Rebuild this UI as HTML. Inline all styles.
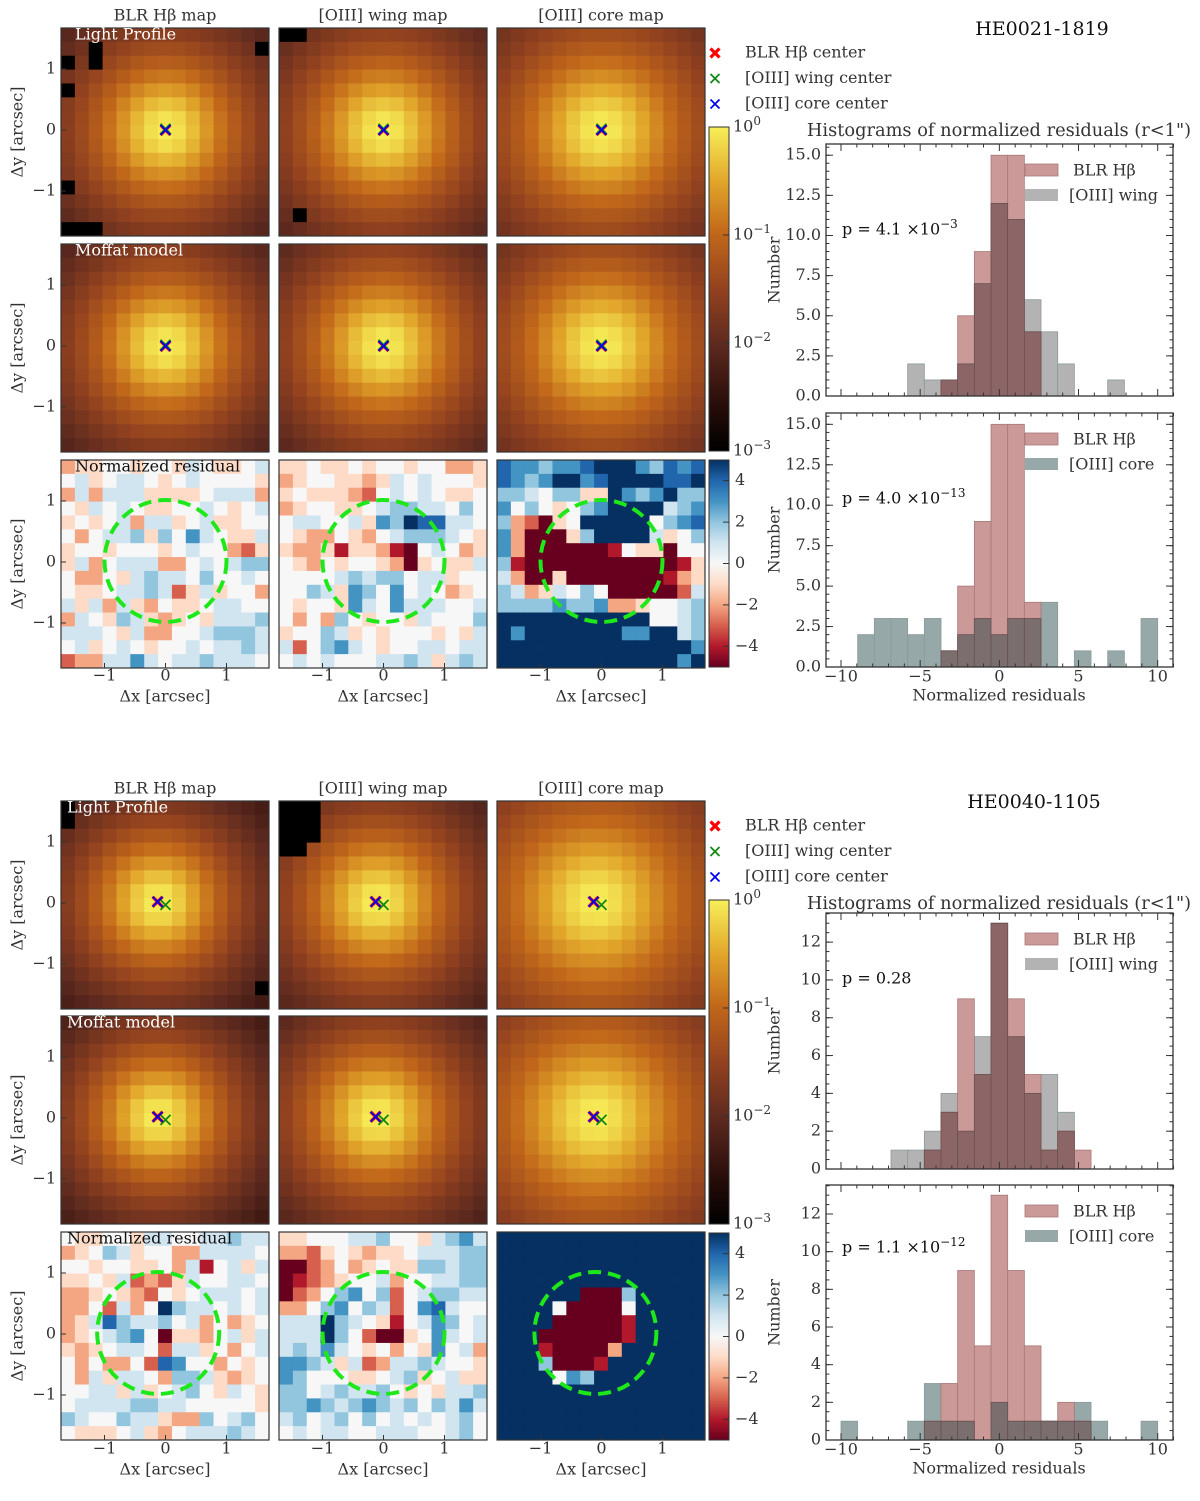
<!DOCTYPE html>
<html><head><meta charset="utf-8"><style>
html,body{margin:0;padding:0;background:#fff;}
svg{display:block;font-family:"DejaVu Serif","Liberation Serif",serif;}
</style></head><body>
<svg id="fig" width="1200" height="1501" viewBox="0 0 1200 1501" xmlns="http://www.w3.org/2000/svg">
<defs>
<linearGradient id="gLog" x1="0" y1="1" x2="0" y2="0">
<stop offset="0" stop-color="#000000"/><stop offset="0.15" stop-color="#2a0e0a"/><stop offset="0.33" stop-color="#5e2a1f"/><stop offset="0.5" stop-color="#93421f"/><stop offset="0.67" stop-color="#c1671a"/><stop offset="0.83" stop-color="#e1a52a"/><stop offset="1" stop-color="#f7ef58"/>
</linearGradient>
<linearGradient id="gRdBu" x1="0" y1="1" x2="0" y2="0">
<stop offset="0" stop-color="#67001f"/><stop offset="0.1" stop-color="#b2182b"/><stop offset="0.2" stop-color="#d6604d"/><stop offset="0.3" stop-color="#f4a582"/><stop offset="0.4" stop-color="#fddbc7"/><stop offset="0.5" stop-color="#f7f7f7"/><stop offset="0.6" stop-color="#d1e5f0"/><stop offset="0.7" stop-color="#92c5de"/><stop offset="0.8" stop-color="#4393c3"/><stop offset="0.9" stop-color="#2166ac"/><stop offset="1" stop-color="#053061"/>
</linearGradient>
</defs>
</svg>
<script>
// ---------- data ----------
const panelNames = ["HE0021-1819", "HE0040-1105"];
const histBinStart = -10;
const histBinCount = 19;
const p1BlrA = [0,0,0,0,0,0,1,5,9,15,15,4,0,0,0,0,0,0,0];
const p1Wing = [0,0,0,0,2,1,1,2,7,12,11,6,4,2,0,0,1,0,0];
const p1BlrB = [0,0,0,0,0,0,1,5,9,15,15,4,0,0,0,0,0,0,0];
const p1Core = [0,2,3,3,2,3,1,2,3,2,3,3,4,0,1,0,1,0,3];
const p2BlrA = [0,0,0,0,0,1,3,9,5,13,9,5,1,2,1,0,0,0,0];
const p2Wing = [0,0,0,1,1,2,4,2,7,13,7,4,5,3,0,0,0,0,0];
const p2BlrB = [0,0,0,0,0,1,3,9,5,13,9,5,1,2,1,0,0,0,0];
const p2Core = [1,0,0,0,1,3,1,1,0,2,1,1,1,1,2,1,0,0,1];
const pValues = [["4.1","-3"],["4.0","-13"],["0.28",""],["1.1","-12"]];
const yTicks1 = [0,2.5,5,7.5,10,12.5,15];
const yTicks2 = [0,2,4,6,8,10,12];
const xTicks = [-10,-5,0,5,10];
// light profile Moffat params per panel per map: [x0, y0 (arcsec), alpha, beta]
const lpP1 = [[0,0,0.62,1.8],[0,0,0.65,1.8],[0,0,0.7,1.7]];
const lpP2 = [[-0.12,0.02,0.6,1.9],[-0.1,0.02,0.62,1.8],[-0.1,0.02,0.75,1.6]];
// masked (black) cells "row,col"
const maskP1 = [["1,14","2,0","4,0","11,0","14,0","14,1","14,2","1,2","2,2"],["13,1","0,0","0,1"],[]];
const maskP2 = [["1,0","0,0","13,14"],["0,0","0,1","0,2","1,0","1,1","1,2","2,0","2,1","2,2","3,0","3,1"],[]];
// markers: [BLR, wing, core] centers (arcsec)
const markX1 = [0.0,0.0,0.0], markY1 = [0.0,0.02,0.0];
const markX2 = [-0.13,0.0,-0.13], markY2 = [0.02,-0.03,0.02];
// r<1" circle centers per map (arcsec x)
const circX1 = [0.0,0.0,0.0], circX2 = [-0.12,0.0,-0.1];
// residual maps: A..K => -5..5
const resP1 = [
["DEEFFEFFEGFEEFG","FGEFGGFEFGFFFFE","DGDGGGEEEEFGGGD","FEGFGFEEFFGFEFG","EFEFGDGGEFGEEFF","FDFGGHEHFIGFEEG","EFFEFFFEFGFFDCE","EGDFGGGDDFGFGHH","FDDFEGHGGFHFFGF","FEEFGGHGCEGEFFD","GEGDGEDFEEFGGFF","DGFEHGEDEFEGGGH","GGGFEGDDFFGHHHG","FGEFGFEFFGFGGHG","CDDGGIGFGGHGGGF"],
["EEFEEFEFFEFFDDE","DEFFEEDEGFGFFFE","EFEEEDCFGFGFEEF","DEFFEEFGHHGGFHF","FGGFFGEIHKJJGGF","FEDDFEDFGHHHGFE","EDDEBEEDBAFGFDE","FEDFEFFEDAEFEEG","FFFFGHGHHFGGEFF","FFHGEIHFIFGFDEF","FEFFEIGFIGGGFFG","FDFDHFEFFEGFFFH","EFFHGEFEFFFEFEG","GCFHIGFEFFGGFGG","FGFGFFFGGHGEGHG"],
["JIIHIIJKKKIHJIJ","JIHIKKIJKKKKJJK","HHGFHHEEKIHIKHH","IFHFEFHIKKKKGHI","HDCAEFKKKKKFHIJ","IDAAAEHKKKKGEFH","IDAAAAAABFEEAFF","HBAAAAAAAAAAABE","GDAAEAAAAAAABDE","HGDEGFHFAAAAACG","HHHHIHHIDDEFFGH","KKKKKKKKKKKFFGH","KIKKKKKKKIIKKGH","KKKKKKKKKKKKKKI","KKKKKKKKKKKKKIK"]];
const resP2 = [
["FEEFFEGGFFGGHGG","DEFHGEFFDDGGGGF","FFEFFEEFDGBFGEG","EEFEGCDCEGFFGGF","DDEFEDCFEFGGGFG","DDFCGDFKHGGFGFG","DEGJHGGHFGDFDEF","DEFGHIFAEEDFGEG","EDEFGGFCGGEFDFG","FDFDDFCJIFFDFEF","FDGEGGFDHHGEDEF","FFGGEGEFGHFEGFE","FGGGGHHGGFFFFFE","HGFFHGGEDDHFGHF","FEEEFGEDFGGGHGF"],
["EEFFFGGHFFEGHIG","DDCEFEDEEFGGGHH","AACDFDEFEEHHGHH","ABCDEFFGDFFGGHH","ACDFHIFHCFGHHGG","DDFHIFHGCFIJGFF","GGGKHGFEBFGIHFG","GGGKHFCAAEFIGFG","GHGIGFEFDFEIFGD","IIHGEGCDGGHGFFE","IHFFFEEFGHEFGEE","HHFGHGGHFEFEGGH","HHIHGHIHGHFHGIG","GHFGHFHFGFGFGHF","FGFGGFFGGGFFGHF"],
["KKKKKKKKKKKKKKK","KKKKKKKKKKKKKKK","KKKKKKKKKKKKKKK","KKKKKKKKKKKKKKK","KKKKKKAAAHKKKKK","KKKKFAAAAFKKKKK","KKKKAAAAABKKKKK","KKKAAAAAABKKKKK","KKKBAAAADKKKKKK","KKKHAAABKKKKKKK","KKKKFIHKKKKKKKK","KKKKKKKKKKKKKKK","KKKKKKKKKKKKKKK","KKKKKKKKKKKKKKK","KKKKKKKKKKKKKKK"]];

// ---------- helpers ----------
const svg = document.getElementById('fig');
const NS = "http://www.w3.org/2000/svg";
const FS = 16;
function mk(tag, attrs, parent){const e=document.createElementNS(NS,tag);for(const k in attrs)e.setAttribute(k,attrs[k]);(parent||svg).appendChild(e);return e;}
function hex(h){return [parseInt(h.substr(1,2),16),parseInt(h.substr(3,2),16),parseInt(h.substr(5,2),16)];}
function interp(stops,t){t=Math.max(0,Math.min(1,t));for(let i=1;i<stops.length;i++){if(t<=stops[i][0]){const a=stops[i-1],b=stops[i];const f=(t-a[0])/(b[0]-a[0]);const ca=hex(a[1]),cb=hex(b[1]);return 'rgb('+ca.map((v,j)=>Math.round(v+(cb[j]-v)*f)).join(',')+')';}}return stops[stops.length-1][1];}
const hotStops=[[0,'#000000'],[0.15,'#2a0e0a'],[0.33,'#5e2a1f'],[0.5,'#93421f'],[0.67,'#c1671a'],[0.83,'#e1a52a'],[1,'#f7ef58']];
const rdbuStops=[[0,'#67001f'],[0.1,'#b2182b'],[0.2,'#d6604d'],[0.3,'#f4a582'],[0.4,'#fddbc7'],[0.5,'#f7f7f7'],[0.6,'#d1e5f0'],[0.7,'#92c5de'],[0.8,'#4393c3'],[0.9,'#2166ac'],[1,'#053061']];
function txt(x,y,s,size,attrs,parent){const t=mk('text',Object.assign({x:x,y:y,'font-size':size,fill:'#333','dominant-baseline':'middle'},attrs||{}),parent);t.textContent=s;return t;}

const colX=[61,279,497], IW=208, NC=15, CS=IW/NC, PXA=61;
const rowYs=[[28,244,460],[801,1016,1232]];
const colTitles=["BLR H\u03b2 map","[OIII] wing map","[OIII] core map"];

function drawImage(g,x0,y0,colorOf,name){
  const grp=mk('g',{},g);
  
  
  for(let r=0;r<NC;r++)for(let c=0;c<NC;c++){
    mk('rect',{x:(x0+c*CS).toFixed(2),y:(y0+r*CS).toFixed(2),width:(CS+0.4).toFixed(2),height:(CS+0.4).toFixed(2),fill:colorOf(r,c)},grp);
  }
  mk('rect',{x:x0,y:y0,width:IW,height:IW,fill:'none',stroke:'#333','stroke-width':1.2},grp);
}
function xArc(x0,c){return ((x0+(c+0.5)*CS)-(x0+104.5))/PXA;}
function yArc(y0,r){return ((y0+102)-(y0+(r+0.5)*CS))/PXA;}

function drawPanel(pi){
  const off=pi*773;
  const g=mk('g',{});
  
  
  const lp=pi===0?lpP1:lpP2, mask=pi===0?maskP1:maskP2, res=pi===0?resP1:resP2;
  const mx=pi===0?markX1:markX2, my=pi===0?markY1:markY2, cxs=pi===0?circX1:circX2;
  const rY=rowYs[pi];
  for(let k=0;k<3;k++){
    const x0=colX[k];
    txt(x0+104,16+off,colTitles[k],FS,{'text-anchor':'middle'},g);
    const prm=lp[k];
    const val=(r,c,y0)=>{const dx=xArc(x0,c)-prm[0],dy=yArc(y0,r)-prm[1];return Math.pow(1+(dx*dx+dy*dy)/(prm[2]*prm[2]),-prm[3]);};
    const cOf=v=>interp(hotStops,(Math.log10(Math.max(v,1e-4))+3)/3);
    drawImage(g,x0,rY[0],(r,c)=>mask[k].indexOf(r+','+c)>=0?'#000':cOf(val(r,c,rY[0])),'light-profile-'+k);
    drawImage(g,x0,rY[1],(r,c)=>cOf(val(r,c,rY[1])),'moffat-model-'+k);
    drawImage(g,x0,rY[2],(r,c)=>interp(rdbuStops,((res[k][r].charCodeAt(c)-70)+5)/10),'residual-map-'+k);
    const circ=mk('circle',{cx:x0+104.5+cxs[k]*PXA,cy:rY[2]+101,r:PXA,fill:'none',stroke:'#1ee81a','stroke-width':4,'stroke-dasharray':'13,7'},g);
    
    
    for(let rr=0;rr<2;rr++){
      const cols=['#ff0000','#118811','#0000ee'], widths=[3.2,1.8,1.8];
      for(let m=0;m<3;m++){
        const cx=x0+104.5+mx[m]*PXA, cy=rY[rr]+102-my[m]*PXA, s=5;
        const p=mk('path',{d:`M${cx-s},${cy-s}L${cx+s},${cy+s}M${cx-s},${cy+s}L${cx+s},${cy-s}`,stroke:cols[m],'stroke-width':widths[m]},g);
        
        
      }
    }
    [-1,0,1].forEach(v=>{txt(x0+104.5+v*PXA,676+off,v<0?'\u22121':String(v),FS,{'text-anchor':'middle'},g);
      mk('line',{x1:x0+104.5+v*PXA,x2:x0+104.5+v*PXA,y1:rY[2]+IW,y2:rY[2]+IW-5,stroke:'#333'},g);});
    txt(x0+104,697+off,'\u0394x [arcsec]',FS,{'text-anchor':'middle'},g);
  }
  const ovl=[['Light Profile','#fff'],['Moffat model','#fff'],['Normalized residual','#111']];
  for(let rr=0;rr<3;rr++){
    txt(pi===0?75:67,rY[rr]+7,ovl[rr][0],FS,{fill:ovl[rr][1]},g);
    [1,0,-1].forEach(v=>{txt(56,rY[rr]+102-v*PXA,v<0?'\u22121':String(v),FS,{'text-anchor':'end'},g);
      mk('line',{x1:61,x2:66,y1:rY[rr]+102-v*PXA,y2:rY[rr]+102-v*PXA,stroke:'#333'},g);});
    txt(18,rY[rr]+104,'\u0394y [arcsec]',FS,{'text-anchor':'middle',transform:`rotate(-90 18 ${rY[rr]+104})`},g);
  }
  const cb1=mk('rect',{x:709,y:127+off,width:20,height:324,fill:'url(#gLog)',stroke:'#333','stroke-width':1},g);
  
  for(let e=0;e<=3;e++){const y=127+off+e*108;
    const t=txt(733,y,'10',FS,{},g);const sp=mk('tspan',{'font-size':12,dy:-6},t);sp.textContent=e===0?'0':'\u2212'+e;
    mk('line',{x1:723,x2:729,y1:y,y2:y,stroke:'#333'},g);}
  const cb2=mk('rect',{x:709,y:460+off,width:20,height:207,fill:'url(#gRdBu)',stroke:'#333','stroke-width':1},g);
  
  [4,2,0,-2,-4].forEach(v=>{const y=563.5+off-v*20.7;txt(735,y,v<0?'\u2212'+(-v):String(v),FS,{},g);mk('line',{x1:723,x2:729,y1:y,y2:y,stroke:'#333'},g);});
  const lg=['BLR H\u03b2 center','[OIII] wing center','[OIII] core center'], lc=['#ff0000','#118811','#0000ee'], lw=[3.2,1.8,1.8];
  for(let i=0;i<3;i++){const y=53+off+i*25.5,cx=715,s=4.5;
    mk('path',{d:`M${cx-s},${y-s}L${cx+s},${y+s}M${cx-s},${y+s}L${cx+s},${y-s}`,stroke:lc[i],'stroke-width':lw[i]},g);
    const t=txt(745,y,lg[i],FS,{},g);}
  txt(pi===0?1042:1034,30+off,panelNames[pi],19,{'text-anchor':'middle',fill:'#111'},g);
  txt(999,131+off,'Histograms of normalized residuals (r<1")',17.8,{'text-anchor':'middle'},g);
}

function drawHist(top,bottom,ymax,ticks,minorStep,dec,serA,serB,colB,colOv,labB,pv,pOff,showX,name){
  const g=mk('g',{});
  
  
  const L=826,R=1173;
  const xs=v=>841+(v+10)*15.835;
  const ys=v=>bottom-v*(bottom-top)/ymax;
  const bw=20/histBinCount;
  const drawSeries=(arr,fill,stroke,nm)=>{arr.forEach((n,i)=>{if(!n)return;const x1=xs(histBinStart+i*bw),x2=xs(histBinStart+(i+1)*bw);
    const b=mk('rect',{x:x1,y:ys(n),width:x2-x1,height:ys(0)-ys(n),fill:fill,stroke:stroke,'stroke-width':0.8},g);
    });};
  drawSeries(serB,colB,'#8a9a9a','bar-'+labB.replace(/[^a-z]/gi,'').toLowerCase());
  drawSeries(serA,'#cc9999','#a87878','bar-blr-hbeta');
  drawSeries(serA.map((v,i)=>Math.min(v,serB[i])),colOv,'#6a5050','bar-overlap');
  mk('rect',{x:L,y:top,width:R-L,height:bottom-top,fill:'none',stroke:'#333','stroke-width':1.3},g);
  for(let v=-10;v<=11;v++){const x=xs(v),len=(v%5===0)?7:3.5;
    mk('line',{x1:x,x2:x,y1:bottom,y2:bottom-len,stroke:'#333'},g);mk('line',{x1:x,x2:x,y1:top,y2:top+len,stroke:'#333'},g);}
  if(showX){xTicks.forEach(v=>txt(xs(v),bottom+10,v<0?'\u2212'+(-v):String(v),FS,{'text-anchor':'middle'},g));
    txt(999,bottom+29,'Normalized residuals',FS,{'text-anchor':'middle'},g);}
  for(let v=0;v<=ymax+1e-9;v+=minorStep){const y=ys(v);mk('line',{x1:L,x2:L+3.5,y1:y,y2:y,stroke:'#333'},g);mk('line',{x1:R,x2:R-3.5,y1:y,y2:y,stroke:'#333'},g);}
  ticks.forEach(v=>{const y=ys(v);mk('line',{x1:L,x2:L+7,y1:y,y2:y,stroke:'#333'},g);mk('line',{x1:R,x2:R-7,y1:y,y2:y,stroke:'#333'},g);
    txt(L-5,y,v.toFixed(dec),FS,{'text-anchor':'end'},g);});
  const yc=(top+bottom)/2;
  txt(775,yc,'Number',FS,{'text-anchor':'middle',transform:`rotate(-90 775 ${yc})`},g);
  const lx=1025;
  mk('rect',{x:lx,y:top+20,width:33,height:12,fill:'#cc9999',stroke:'#a87878','stroke-width':0.8},g);
  txt(1073,top+27,'BLR H\u03b2',FS,{},g);
  mk('rect',{x:lx,y:top+45,width:33,height:12,fill:colB},g);
  txt(1069,top+52,labB,FS,{},g);
  const pt=txt(842,top+pOff,'p = '+pv[0]+(pv[1]?' \u00d710':''),FS,{fill:'#111'},g);
  if(pv[1]){const sp=mk('tspan',{'font-size':12,dy:-6},pt);sp.textContent=pv[1].replace('-','\u2212');}
}

drawPanel(0);drawPanel(1);
drawHist(144,396,15.7,yTicks1,0.5,1,p1BlrA,p1Wing,'#b3b3b3','#8c6666','[OIII] wing',pValues[0],86,false,'hist-wing-he0021');
drawHist(413,667,15.7,yTicks1,0.5,1,p1BlrB,p1Core,'#96a8a8','#7a6e6e','[OIII] core',pValues[1],86,true,'hist-core-he0021');
drawHist(913,1169,13.54,yTicks2,0.5,0,p2BlrA,p2Wing,'#b3b3b3','#8c6666','[OIII] wing',pValues[2],66,false,'hist-wing-he0040');
drawHist(1185,1440,13.54,yTicks2,0.5,0,p2BlrB,p2Core,'#96a8a8','#7a6e6e','[OIII] core',pValues[3],63,true,'hist-core-he0040');
</script>
</body></html>
